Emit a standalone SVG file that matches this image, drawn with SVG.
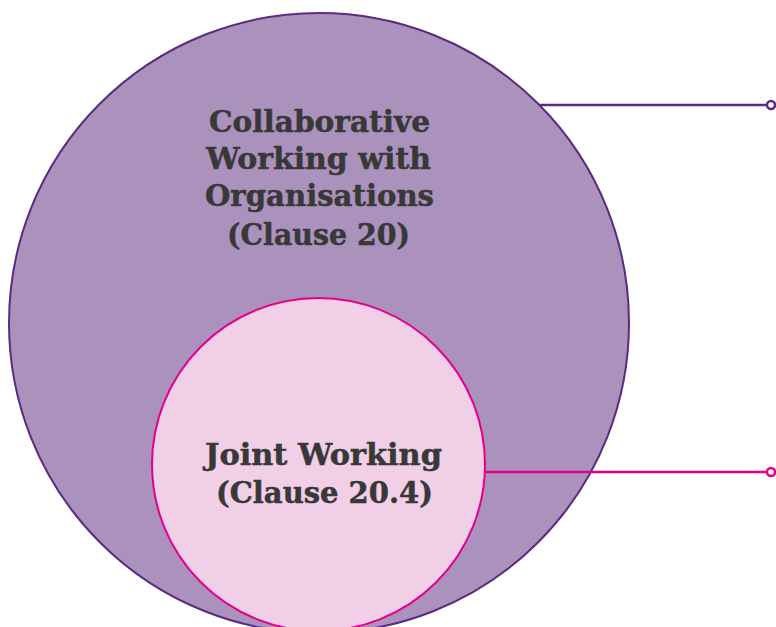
<svg xmlns="http://www.w3.org/2000/svg" width="776" height="627" viewBox="0 0 776 627">
  <style>
    .lbl { font-family: "DejaVu Serif", "Liberation Serif", serif; font-weight: bold; font-size: 29px; fill: #383838; stroke: #383838; stroke-width: 0.5; }
    .outer { fill: #ab92bd; stroke: #5b2a82; stroke-width: 2; }
    .inner { fill: #f1cfe6; stroke: #e5008a; stroke-width: 2; }
    .lead-outer { stroke: #5b2a82; stroke-width: 2.5; fill: none; }
    .lead-inner { stroke: #e5008a; stroke-width: 2.5; fill: none; }
  </style>
  <rect width="776" height="627" fill="#ffffff"/>
  <g id="collaborative-working">
    <circle class="outer" cx="319" cy="323" r="310"/>
    <text class="lbl" x="209" y="132" textLength="221" lengthAdjust="spacingAndGlyphs">Collaborative</text>
    <text class="lbl" x="206" y="169" textLength="225" lengthAdjust="spacingAndGlyphs">Working with</text>
    <text class="lbl" x="205" y="206" textLength="229" lengthAdjust="spacingAndGlyphs">Organisations</text>
    <text class="lbl" x="227" y="245" textLength="183" lengthAdjust="spacingAndGlyphs">(Clause 20)</text>
  </g>
  <g id="joint-working">
    <circle class="inner" cx="318.5" cy="464.5" r="166.5"/>
    <text class="lbl" x="205" y="465" textLength="237" lengthAdjust="spacingAndGlyphs">Joint Working</text>
    <text class="lbl" x="216" y="503" textLength="217" lengthAdjust="spacingAndGlyphs">(Clause 20.4)</text>
  </g>
  <g id="connectors">
    <line class="lead-outer" x1="540" y1="105" x2="767" y2="105"/>
    <circle class="lead-outer" cx="771" cy="105" r="4" fill="#ffffff"/>
    <line class="lead-inner" x1="485" y1="472" x2="767" y2="472"/>
    <circle class="lead-inner" cx="771" cy="472" r="4" fill="#ffffff"/>
  </g>
</svg>
